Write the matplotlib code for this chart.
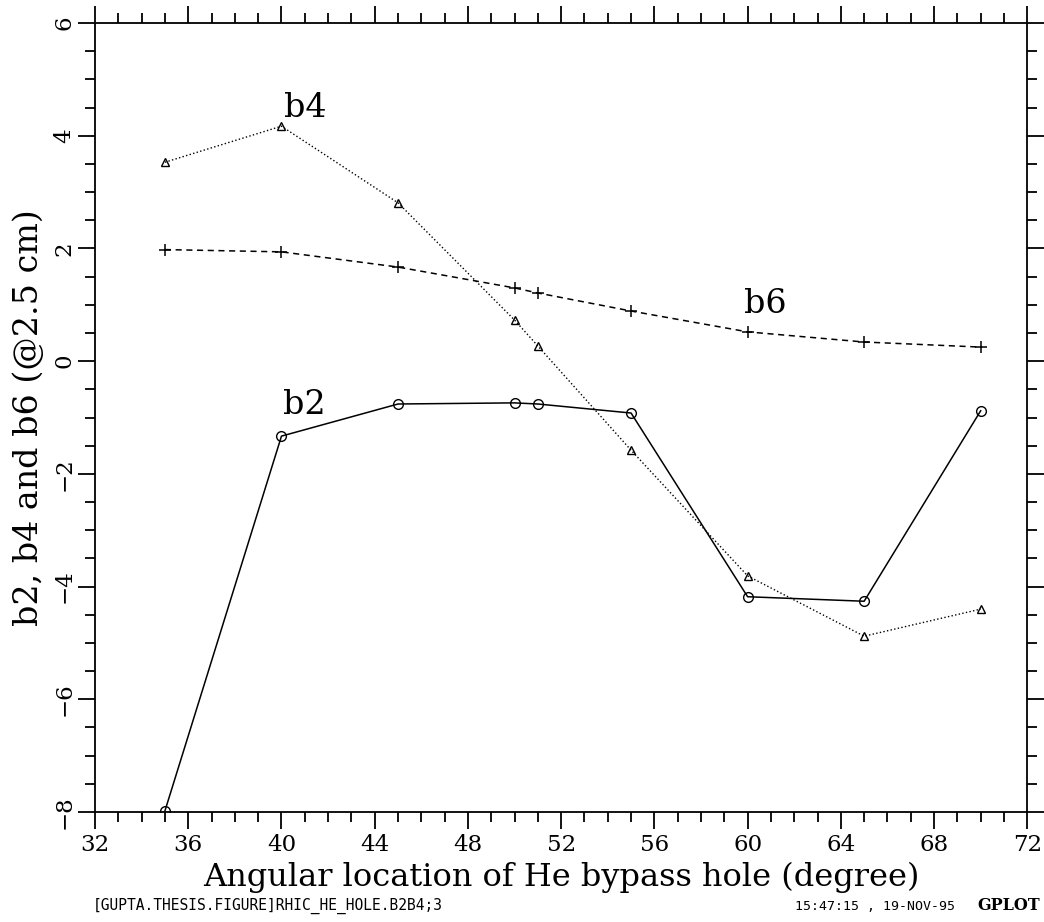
import numpy as np
import matplotlib.pyplot as plt
from matplotlib.ticker import MultipleLocator

# hole angle (degree) and harmonics at 2.5 cm reference radius
angle = [35, 40, 45, 50, 51, 55, 60, 65, 70]
b2 = [-7.98, -1.33, -0.76, -0.74, -0.76, -0.92, -4.18, -4.26, -0.88]
b4 = [3.53, 4.17, 2.81, 0.73, 0.27, -1.58, -3.81, -4.88, -4.40]
b6 = [1.98, 1.94, 1.67, 1.30, 1.21, 0.89, 0.52, 0.34, 0.25]

serif = "DejaVu Serif"
plt.rcParams["font.family"] = serif

fig = plt.figure(figsize=(10.44, 9.22), dpi=100)
ax = fig.add_axes([0.091, 0.1193, 0.893, 0.8557])

ax.plot(angle, b2, "-", color="black", lw=1.1, marker="o", ms=7,
        mfc="none", mew=1.0)
ax.plot(angle, b4, ":", color="black", lw=1.0, marker="^", ms=6,
        mfc="none", mew=1.0)
ax.plot(angle, b6, "--", color="black", lw=1.1, marker="+", ms=8,
        mew=1.1, dashes=(4, 3))

ax.text(41.0, 4.5, "b4", fontsize=24, ha="center", va="center")
ax.text(60.75, 1.02, "b6", fontsize=24, ha="center", va="center")
ax.text(41.0, -0.78, "b2", fontsize=24, ha="center", va="center")

ax.set_xlim(32, 72)
ax.set_ylim(-8, 6)
ax.xaxis.set_major_locator(MultipleLocator(4))
ax.xaxis.set_minor_locator(MultipleLocator(1))
ax.yaxis.set_major_locator(MultipleLocator(2))
ax.yaxis.set_minor_locator(MultipleLocator(0.5))
ax.tick_params(which="both", direction="out", top=True, right=True,
               width=1.3, labelsize=16.5)
ax.tick_params(which="major", length=12)
ax.tick_params(which="minor", length=7)
ax.tick_params(axis="x", pad=4)
ax.tick_params(axis="y", pad=2)
for lab in ax.get_yticklabels():
    lab.set_rotation(90)
    lab.set_va("center")
for s in ax.spines.values():
    s.set_linewidth(1.3)

ax.set_xlabel("Angular location of He bypass hole (degree)", fontsize=23,
              labelpad=4)
ax.set_ylabel("b2, b4 and b6 (@2.5 cm)", fontsize=24, labelpad=6)

fig.text(0.089, 0.013, "[GUPTA.THESIS.FIGURE]RHIC_HE_HOLE.B2B4;3",
         fontsize=10.5, family="DejaVu Sans Mono")
fig.text(0.915, 0.013, "15:47:15 , 19-NOV-95", fontsize=9.5,
         family="DejaVu Sans Mono", ha="right")
fig.text(0.996, 0.013, "GPLOT", fontsize=11.5, family=serif, weight="bold",
         ha="right")

fig.savefig("out.png", dpi=100)
